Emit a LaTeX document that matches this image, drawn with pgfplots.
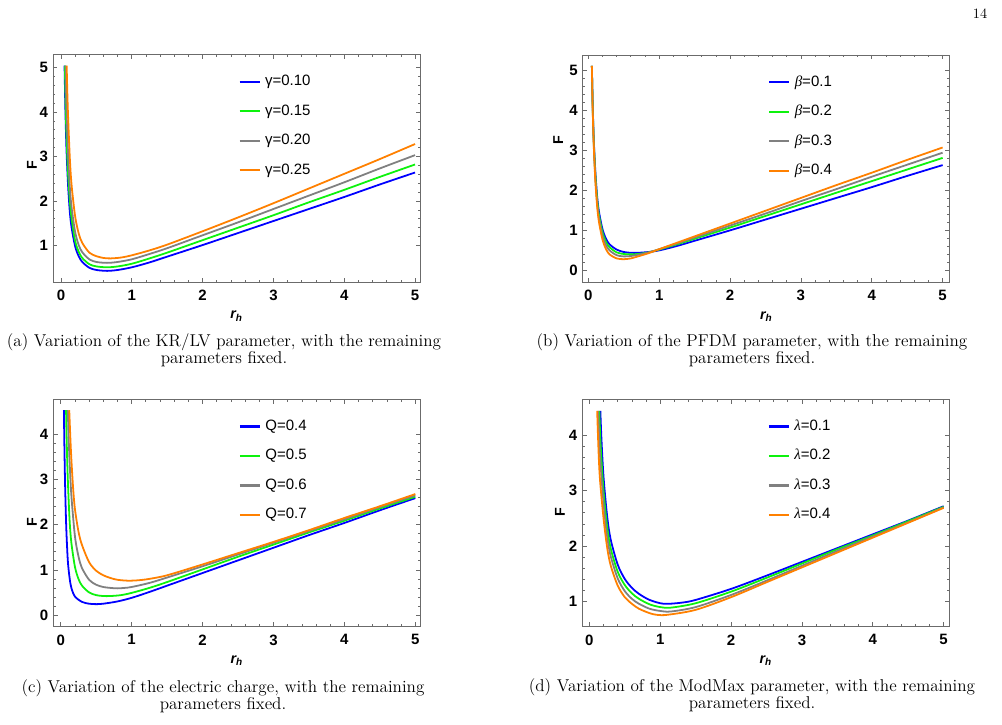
\documentclass[border=0pt]{standalone}
\usepackage{fontspec}
\usepackage{pgfplots}
\pgfplotsset{compat=1.18}
\newfontfamily\arial{Liberation Sans}
\newfontfamily\tnr{Liberation Serif}

\definecolor{cblue}{rgb}{0,0,1}
\definecolor{cgreen}{rgb}{0.05,0.95,0.05}
\definecolor{cgray}{rgb}{0.5,0.5,0.5}
\definecolor{corange}{rgb}{1,0.5,0}
\definecolor{framec}{gray}{0.42}

% Frame style shared by the four panels
\pgfplotsset{
  mma/.style={
    scale only axis, width=256.9pt, height=159.2pt,
    axis line style={framec, line width=0.6pt},
    tick style={framec, line width=0.5pt},
    tick align=inside, major tick length=3pt, minor tick length=1.7pt,
    xtick={0,1,2,3,4,5}, minor x tick num=4, minor y tick num=4,
    ticklabel style={font=\arial\bfseries\fontsize{10.5}{12}\selectfont},
    /pgf/number format/assume math mode=true,
    xticklabel style={yshift=-2pt},
    xlabel={\arial\bfseries\itshape r\textsubscript{h}},
    ylabel={\arial\bfseries F},
    label style={font=\fontsize{10.5}{12}\selectfont},
    every axis x label/.style={at={(axis description cs:0.5,-0.15)}, anchor=center},
    every axis y label/.style={at={(axis description cs:-0.058,0.515)}, anchor=center, rotate=90},
    legend cell align=left,
    legend image code/.code={\draw[##1, line width=1.5pt, line cap=butt] (0pt,0pt) -- (14pt,0pt);},
    legend style={draw=none, fill=none, at={(axis description cs:0.505,0.918)},
      anchor=north west, inner sep=0pt, row sep=9.15pt, column sep=2pt,
      font=\arial\fontsize{10.5}{12}\selectfont,
      nodes={text height=7.5pt, text depth=2pt, inner sep=1pt}},
    every axis plot/.append style={line width=1.25pt, smooth, no markers},
  }
}

\begin{document}
\begin{tikzpicture}
\path[use as bounding box] (0pt,0pt) rectangle (701.4pt,506.8pt);

% page number
\node[font=\fontsize{10}{12}\selectfont] at (686pt,497pt) {14};

% (a) KR/LV parameter
\begin{axis}[mma, at={(37.1pt,309.4pt)}, anchor=south west,
  xmin=-0.113, xmax=5.07, ymin=0.18, ymax=5.29, ytick={1,2,3,4,5},
  every axis y label/.style={at={(axis description cs:-0.057,0.515)}, anchor=center, rotate=90}]
\addplot[cblue] coordinates {(0.05,5.04)(0.06,4.2)(0.07,3.55)(0.08,3.05)(0.1,2.35)(0.125,1.75)(0.15,1.4)(0.2,0.98)(0.25,0.76)(0.3,0.63)(0.4,0.5)(0.5,0.45)(0.65,0.43)(0.8,0.45)(1.0,0.51)(1.25,0.62)(1.5,0.75)(2,1.01)(2.5,1.28)(3,1.55)(3.5,1.82)(4,2.09)(4.5,2.37)(5,2.64)};
\addplot[cgreen] coordinates {(0.055,5.04)(0.065,4.2)(0.075,3.6)(0.09,2.95)(0.1,2.6)(0.125,2.0)(0.15,1.6)(0.2,1.1)(0.25,0.86)(0.3,0.72)(0.4,0.58)(0.5,0.53)(0.65,0.51)(0.8,0.53)(1.0,0.59)(1.25,0.71)(1.5,0.84)(2,1.12)(2.5,1.4)(3,1.68)(3.5,1.97)(4,2.25)(4.5,2.54)(5,2.82)};
\addplot[cgray] coordinates {(0.065,5.04)(0.075,4.25)(0.085,3.7)(0.1,3.05)(0.125,2.3)(0.15,1.85)(0.2,1.3)(0.25,1.01)(0.3,0.85)(0.4,0.69)(0.5,0.63)(0.65,0.61)(0.8,0.63)(1.0,0.69)(1.25,0.81)(1.5,0.94)(2,1.23)(2.5,1.52)(3,1.82)(3.5,2.12)(4,2.42)(4.5,2.73)(5,3.03)};
\addplot[corange] coordinates {(0.08,5.04)(0.09,4.4)(0.1,3.9)(0.125,2.95)(0.15,2.35)(0.2,1.65)(0.25,1.27)(0.3,1.06)(0.4,0.84)(0.5,0.76)(0.6,0.72)(0.7,0.71)(0.85,0.73)(1.0,0.78)(1.25,0.89)(1.5,1.02)(2,1.32)(2.5,1.63)(3,1.95)(3.5,2.28)(4,2.61)(4.5,2.94)(5,3.28)};
\legend{γ=0.10,γ=0.15,γ=0.20,γ=0.25}
\end{axis}

% (b) PFDM parameter
\begin{axis}[mma, at={(407.9pt,309.1pt)}, anchor=south west,
  xmin=-0.079, xmax=5.10, ymin=-0.29, ymax=5.39, ytick={0,1,2,3,4,5},
  every axis y label/.style={at={(axis description cs:-0.067,0.627)}, anchor=center, rotate=90}]
\addplot[cblue] coordinates {(0.05,5.12)(0.06,4.3)(0.07,3.65)(0.08,3.15)(0.1,2.45)(0.125,1.85)(0.15,1.48)(0.2,1.04)(0.25,0.8)(0.3,0.66)(0.4,0.53)(0.5,0.47)(0.6,0.45)(0.7,0.45)(0.85,0.47)(1.0,0.51)(1.25,0.62)(1.5,0.75)(2,1.01)(2.5,1.28)(3,1.55)(3.5,1.82)(4,2.09)(4.5,2.37)(5,2.64)};
\addplot[cgreen] coordinates {(0.05,5.12)(0.06,4.25)(0.07,3.6)(0.08,3.1)(0.1,2.38)(0.125,1.78)(0.15,1.4)(0.2,0.96)(0.25,0.72)(0.3,0.59)(0.4,0.46)(0.5,0.42)(0.6,0.41)(0.7,0.42)(0.85,0.46)(1.0,0.53)(1.25,0.66)(1.5,0.8)(2,1.08)(2.5,1.37)(3,1.66)(3.5,1.95)(4,2.24)(4.5,2.53)(5,2.82)};
\addplot[cgray] coordinates {(0.05,5.12)(0.06,4.2)(0.07,3.55)(0.08,3.05)(0.1,2.3)(0.125,1.7)(0.15,1.32)(0.2,0.88)(0.25,0.64)(0.3,0.51)(0.4,0.39)(0.5,0.36)(0.6,0.37)(0.7,0.4)(0.85,0.46)(1.0,0.54)(1.25,0.68)(1.5,0.83)(2,1.13)(2.5,1.43)(3,1.74)(3.5,2.04)(4,2.35)(4.5,2.65)(5,2.95)};
\addplot[corange] coordinates {(0.05,5.12)(0.06,4.15)(0.07,3.5)(0.08,2.98)(0.1,2.22)(0.125,1.6)(0.15,1.22)(0.2,0.78)(0.25,0.54)(0.3,0.41)(0.4,0.31)(0.5,0.29)(0.6,0.31)(0.7,0.36)(0.85,0.44)(1.0,0.54)(1.25,0.7)(1.5,0.86)(2,1.18)(2.5,1.5)(3,1.82)(3.5,2.14)(4,2.45)(4.5,2.77)(5,3.08)};
\legend{{\tnr\itshape β}=0.1,{\tnr\itshape β}=0.2,{\tnr\itshape β}=0.3,{\tnr\itshape β}=0.4}
\end{axis}

% (c) electric charge
\begin{axis}[mma, at={(37.3pt,68.1pt)}, anchor=south west,
  xmin=-0.105, xmax=5.07, ymin=-0.26, ymax=4.78, ytick={0,1,2,3,4},
  every axis y label/.style={at={(axis description cs:-0.058,0.46)}, anchor=center, rotate=90}]
\addplot[cblue] coordinates {(0.045,4.54)(0.05,3.9)(0.06,3.0)(0.07,2.35)(0.08,1.85)(0.1,1.2)(0.125,0.82)(0.15,0.6)(0.2,0.41)(0.3,0.29)(0.4,0.25)(0.5,0.24)(0.6,0.25)(0.8,0.3)(1.0,0.38)(1.25,0.51)(1.5,0.65)(2,0.93)(2.5,1.21)(3,1.49)(3.5,1.77)(4,2.04)(4.5,2.32)(5,2.59)};
\addplot[cgreen] coordinates {(0.075,4.54)(0.085,3.8)(0.1,3.0)(0.125,2.1)(0.15,1.6)(0.2,1.07)(0.25,0.8)(0.3,0.65)(0.4,0.5)(0.5,0.44)(0.6,0.42)(0.7,0.42)(0.85,0.44)(1.0,0.49)(1.25,0.6)(1.5,0.73)(2,1.01)(2.5,1.29)(3,1.56)(3.5,1.83)(4,2.09)(4.5,2.36)(5,2.62)};
\addplot[cgray] coordinates {(0.1,4.54)(0.11,4.0)(0.125,3.4)(0.15,2.65)(0.2,1.75)(0.25,1.3)(0.3,1.04)(0.4,0.78)(0.5,0.67)(0.6,0.62)(0.7,0.6)(0.8,0.59)(0.9,0.6)(1.0,0.62)(1.25,0.71)(1.5,0.83)(2,1.08)(2.5,1.34)(3,1.6)(3.5,1.86)(4,2.12)(4.5,2.39)(5,2.65)};
\addplot[corange] coordinates {(0.12,4.54)(0.135,3.95)(0.15,3.45)(0.175,2.8)(0.2,2.35)(0.25,1.85)(0.3,1.55)(0.4,1.17)(0.5,0.98)(0.6,0.88)(0.7,0.82)(0.8,0.78)(0.95,0.76)(1.1,0.77)(1.25,0.8)(1.5,0.88)(2,1.12)(2.5,1.37)(3,1.62)(3.5,1.88)(4,2.15)(4.5,2.41)(5,2.68)};
\legend{Q=0.4,Q=0.5,Q=0.6,Q=0.7}
\end{axis}

% (d) ModMax parameter
\begin{axis}[mma, at={(407.6pt,68.1pt)}, anchor=south west,
  xmin=-0.10, xmax=5.08, ymin=0.534, ymax=4.66, ytick={1,2,3,4},
  every axis y label/.style={at={(axis description cs:-0.061,0.504)}, anchor=center, rotate=90}]
\addplot[cblue] coordinates {(0.155,4.45)(0.17,3.95)(0.2,3.25)(0.25,2.55)(0.3,2.12)(0.4,1.66)(0.5,1.4)(0.6,1.24)(0.7,1.13)(0.85,1.02)(1.05,0.95)(1.3,0.97)(1.5,1.02)(2,1.22)(2.5,1.46)(3,1.71)(3.5,1.96)(4,2.21)(4.5,2.46)(5,2.72)};
\addplot[cgreen] coordinates {(0.14,4.45)(0.16,3.8)(0.2,3.0)(0.25,2.36)(0.3,1.96)(0.4,1.53)(0.5,1.29)(0.6,1.14)(0.7,1.04)(0.85,0.94)(1.0,0.89)(1.15,0.88)(1.5,0.96)(2,1.17)(2.5,1.42)(3,1.68)(3.5,1.94)(4,2.19)(4.5,2.45)(5,2.71)};
\addplot[cgray] coordinates {(0.125,4.45)(0.15,3.65)(0.2,2.78)(0.25,2.18)(0.3,1.82)(0.4,1.41)(0.5,1.18)(0.6,1.04)(0.7,0.95)(0.85,0.86)(1.0,0.82)(1.15,0.81)(1.5,0.89)(2,1.11)(2.5,1.37)(3,1.64)(3.5,1.91)(4,2.17)(4.5,2.43)(5,2.70)};
\addplot[corange] coordinates {(0.11,4.45)(0.13,3.7)(0.15,3.2)(0.2,2.5)(0.25,1.98)(0.3,1.65)(0.4,1.28)(0.5,1.07)(0.6,0.95)(0.7,0.86)(0.85,0.78)(0.95,0.75)(1.1,0.75)(1.5,0.84)(2,1.07)(2.5,1.34)(3,1.61)(3.5,1.88)(4,2.15)(4.5,2.42)(5,2.69)};
\legend{{\tnr\itshape λ}=0.1,{\tnr\itshape λ}=0.2,{\tnr\itshape λ}=0.3,{\tnr\itshape λ}=0.4}
\end{axis}

% sub-captions
\node[align=center, font=\fontsize{12}{12}\selectfont] at (156.8pt,261.5pt)
  {(a) Variation of the KR/LV parameter, with the remaining\\parameters fixed.};
\node[align=center, font=\fontsize{12}{12}\selectfont] at (526.4pt,261.5pt)
  {(b) Variation of the PFDM parameter, with the remaining\\parameters fixed.};
\node[align=center, font=\fontsize{12}{12}\selectfont] at (156.1pt,19.3pt)
  {(c) Variation of the electric charge, with the remaining\\parameters fixed.};
\node[align=center, font=\fontsize{12}{12}\selectfont] at (526.4pt,20.3pt)
  {(d) Variation of the ModMax parameter, with the remaining\\parameters fixed.};
\end{tikzpicture}
\end{document}
